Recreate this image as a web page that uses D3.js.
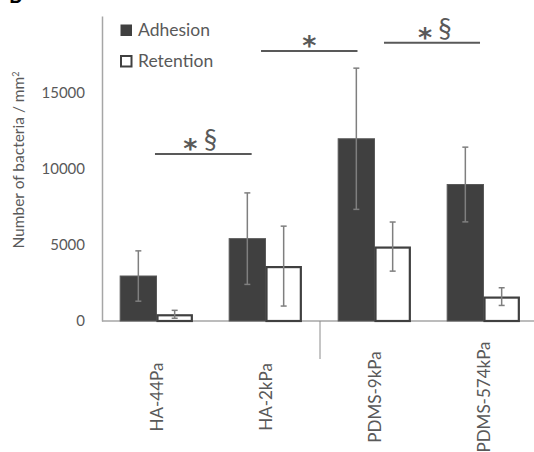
<!DOCTYPE html>
<html><head><meta charset="utf-8">
<script src="https://cdn.jsdelivr.net/npm/d3@7"></script>
<style>body{margin:0;background:#fff}svg{display:block;font-family:Lato,"Open Sans",sans-serif}</style>
</head><body><svg id="c" width="534" height="452"></svg>
<script>
const categories = ["HA-44Pa", "HA-2kPa", "PDMS-9kPa", "PDMS-574kPa"];
const seriesNames = ["Adhesion", "Retention"];
const adhesion = [2950, 5400, 11950, 8950];
const adhesionErr = [1650, 3000, 4630, 2450];
const retention = [440, 3600, 4880, 1600];
const retentionErr = [260, 2620, 1610, 580];
const yTicks = [0, 5000, 10000, 15000];
// significance bars: span in category units (0 = left edge of first group), height in data units
const sigMarks = [
  {from: 0.486, to: 1.373, level: 10950, label: ["*", "§"], shift: -3},
  {from: 1.459, to: 2.344, level: 17700, label: ["*"], shift: 0},
  {from: 2.587, to: 3.468, level: 18250, label: ["*", "§"], shift: 3}
];

const svg = d3.select("#c");
const textCol = "#595959", axisCol = "#a6a6a6";
const x0 = d3.scaleBand().domain(categories).range([102, 538]).padding(0);
const x1 = d3.scaleBand().domain(seriesNames).range([0, x0.bandwidth()]).paddingInner(0).paddingOuter(0.5);
const xc = d3.scaleLinear().domain([0, categories.length]).range(x0.range());
const y = d3.scaleLinear().domain([0, 20000]).range([321, 16]);

// panel label (cropped in reference)
svg.append("text").attr("x", 9).attr("y", 3).attr("font-weight", "bold").attr("font-size", 20).attr("fill", "#000").text("B");

// y axis
const yAxis = d3.axisLeft(y).tickValues(yTicks).tickSize(0).tickPadding(17).tickFormat(d3.format("d"));
const ga = svg.append("g").attr("transform", "translate(102,0)").call(yAxis);
ga.select(".domain").attr("stroke", axisCol).attr("stroke-width", 1.5);
ga.selectAll("text").attr("font-size", 15).attr("fill", textCol).attr("font-family", "Lato");

// x baseline
svg.append("line").attr("x1", 102).attr("x2", 534).attr("y1", y(0)).attr("y2", y(0)).attr("stroke", axisCol).attr("stroke-width", 1.5);
// group separator
svg.append("line").attr("x1", x0("PDMS-9kPa")).attr("x2", x0("PDMS-9kPa")).attr("y1", y(0)).attr("y2", 359).attr("stroke", "#8c8c8c").attr("stroke-width", 1);

// y title
svg.append("text").attr("transform", "translate(24,160) rotate(-90)").attr("text-anchor", "middle")
  .attr("font-size", 15.5).attr("fill", textCol)
  .text("Number of bacteria / mm").append("tspan").attr("baseline-shift", "super").attr("font-size", 9).text("2");

const data = categories.map((c, i) => ({c, vals: [
  {s: "Adhesion", v: adhesion[i], e: adhesionErr[i]},
  {s: "Retention", v: retention[i], e: retentionErr[i]}]}));

const g = svg.selectAll("g.grp").data(data).join("g").attr("class", "grp")
  .attr("transform", d => `translate(${x0(d.c)},0)`);
g.selectAll("rect").data(d => d.vals).join("rect")
  .attr("x", d => x1(d.s) + (d.s === "Retention" ? 1 : 0))
  .attr("width", d => x1.bandwidth() - (d.s === "Retention" ? 2 : 0))
  .attr("y", d => y(d.v) + (d.s === "Retention" ? 1 : 0))
  .attr("height", d => y(0) - y(d.v) - (d.s === "Retention" ? 1 : 0))
  .attr("fill", d => d.s === "Adhesion" ? "#404040" : "#fff")
  .attr("stroke", d => d.s === "Adhesion" ? "#595959" : "#404040")
  .attr("stroke-width", d => d.s === "Adhesion" ? 1 : 2.2);

const eb = g.selectAll("g.err").data(d => d.vals).join("g").attr("class", "err")
  .attr("stroke", "#7f7f7f").attr("stroke-width", 1.5);
eb.append("line").attr("x1", d => x1(d.s) + x1.bandwidth() / 2).attr("x2", d => x1(d.s) + x1.bandwidth() / 2)
  .attr("y1", d => y(d.v + d.e)).attr("y2", d => y(d.v - d.e));
[1, -1].forEach(sgn => {
  eb.append("line").attr("x1", d => x1(d.s) + x1.bandwidth() / 2 - 3).attr("x2", d => x1(d.s) + x1.bandwidth() / 2 + 3)
    .attr("y1", d => y(d.v + sgn * d.e)).attr("y2", d => y(d.v + sgn * d.e));
});

// category labels
svg.selectAll("text.cat").data(categories).join("text").attr("class", "cat")
  .attr("transform", d => `translate(${x0(d) + x0.bandwidth() / 2 + 6},397) rotate(-90)`)
  .attr("text-anchor", "middle").attr("font-size", 17).attr("fill", textCol).text(d => d);

// legend
const leg = svg.append("g");
seriesNames.forEach((s, i) => {
  leg.append("rect").attr("x", 121).attr("y", 25 + i * 31).attr("width", 10.5).attr("height", 10.5)
    .attr("fill", s === "Adhesion" ? "#404040" : "#fff").attr("stroke", "#404040").attr("stroke-width", s === "Adhesion" ? 1 : 2);
  leg.append("text").attr("x", 138).attr("y", 36 + i * 31).attr("font-size", 17.5).attr("fill", textCol).text(s);
});

// significance marks
sigMarks.forEach(m => {
  const xa = xc(m.from), xb = xc(m.to);
  const yl = y(m.level);
  svg.append("line").attr("x1", xa).attr("x2", xb).attr("y1", yl).attr("y2", yl).attr("stroke", textCol).attr("stroke-width", 2);
  const cx = (xa + xb) / 2 + m.shift;
  const star = svg.append("text").attr("y", yl + 4).attr("text-anchor", "middle").attr("font-size", 27)
    .attr("font-weight", "bold").attr("fill", textCol).attr("font-family", "DejaVu Sans").text("*");
  if (m.label.length === 1) {
    star.attr("x", cx);
  } else {
    star.attr("x", cx - 10);
    svg.append("text").attr("x", cx + 10).attr("y", yl - 5).attr("text-anchor", "middle").attr("font-size", 27).attr("fill", textCol).text("§");
  }
});
</script></body></html>
